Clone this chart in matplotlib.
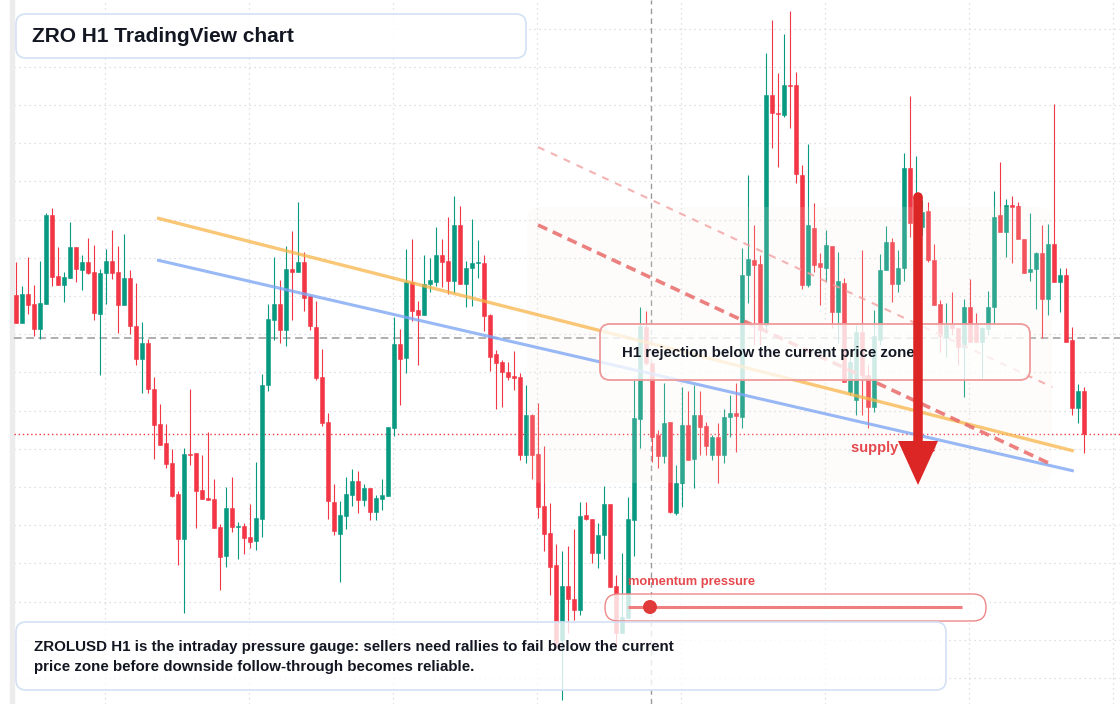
import matplotlib.pyplot as plt
from matplotlib.patches import FancyBboxPatch, FancyArrow, Circle, Rectangle
from matplotlib.transforms import Affine2D
import numpy as np

# ZRO H1 candles (price)
opens = [1.705, 1.677, 1.706, 1.696, 1.671, 1.696, 1.785, 1.724, 1.715, 1.722,
         1.753, 1.730, 1.738, 1.728, 1.686, 1.727, 1.739, 1.728, 1.695, 1.722,
         1.674, 1.641, 1.657, 1.611, 1.576, 1.557, 1.537, 1.506, 1.461, 1.546,
         1.547, 1.510, 1.502, 1.501, 1.473, 1.444, 1.492, 1.473, 1.474, 1.463,
         1.459, 1.481, 1.615, 1.680, 1.696, 1.670, 1.731, 1.728, 1.738, 1.704,
         1.673, 1.623, 1.578, 1.498, 1.466, 1.484, 1.505, 1.519, 1.500, 1.512,
         1.488, 1.501, 1.504, 1.572, 1.656, 1.642, 1.718, 1.690, 1.685, 1.716,
         1.718, 1.745, 1.739, 1.719, 1.775, 1.716, 1.732, 1.737, 1.737, 1.685,
         1.646, 1.638, 1.628, 1.624, 1.623, 1.545, 1.585, 1.546, 1.494, 1.467,
         1.435, 1.360, 1.414, 1.401, 1.390, 1.485, 1.481, 1.447, 1.465, 1.496,
         1.414, 1.367, 1.382, 1.480, 1.581, 1.673, 1.637, 1.565, 1.544, 1.578,
         1.487, 1.517, 1.575, 1.541, 1.585, 1.574, 1.545, 1.563, 1.545, 1.583,
         1.587, 1.583, 1.725, 1.740, 1.736, 1.675, 1.905, 1.887, 1.885, 1.915,
         1.915, 1.825, 1.715, 1.772, 1.737, 1.732, 1.754, 1.688, 1.717, 1.608,
         1.600, 1.668, 1.625, 1.593, 1.660, 1.730, 1.758, 1.716, 1.732, 1.832,
         1.773, 1.773, 1.789, 1.740, 1.696, 1.663, 1.675, 1.672, 1.653, 1.693,
         1.675, 1.658, 1.671, 1.693, 1.785, 1.768, 1.795, 1.794, 1.761, 1.728,
         1.731, 1.747, 1.701, 1.756, 1.718, 1.725, 1.660, 1.592, 1.609]
highs = [1.738, 1.714, 1.743, 1.715, 1.739, 1.787, 1.792, 1.753, 1.728, 1.778,
         1.753, 1.745, 1.762, 1.755, 1.731, 1.751, 1.770, 1.754, 1.766, 1.730,
         1.717, 1.678, 1.661, 1.623, 1.596, 1.576, 1.551, 1.509, 1.552, 1.611,
         1.547, 1.545, 1.568, 1.521, 1.476, 1.513, 1.523, 1.478, 1.477, 1.496,
         1.538, 1.626, 1.696, 1.743, 1.720, 1.754, 1.769, 1.798, 1.748, 1.705,
         1.699, 1.651, 1.587, 1.516, 1.499, 1.523, 1.531, 1.529, 1.516, 1.512,
         1.505, 1.521, 1.573, 1.683, 1.671, 1.751, 1.761, 1.699, 1.745, 1.742,
         1.773, 1.761, 1.783, 1.804, 1.794, 1.739, 1.781, 1.760, 1.745, 1.686,
         1.650, 1.640, 1.638, 1.649, 1.627, 1.615, 1.586, 1.597, 1.554, 1.497,
         1.456, 1.449, 1.454, 1.471, 1.498, 1.498, 1.481, 1.477, 1.514, 1.496,
         1.425, 1.447, 1.503, 1.620, 1.693, 1.689, 1.637, 1.570, 1.617, 1.578,
         1.535, 1.613, 1.609, 1.615, 1.609, 1.578, 1.565, 1.577, 1.591, 1.605,
         1.617, 1.752, 1.825, 1.775, 1.745, 1.947, 1.980, 1.927, 1.966, 1.989,
         1.928, 1.835, 1.856, 1.797, 1.747, 1.770, 1.754, 1.748, 1.722, 1.650,
         1.675, 1.750, 1.635, 1.690, 1.746, 1.774, 1.762, 1.750, 1.847, 1.904,
         1.844, 1.800, 1.798, 1.756, 1.700, 1.697, 1.708, 1.672, 1.701, 1.721,
         1.687, 1.673, 1.709, 1.809, 1.838, 1.801, 1.804, 1.798, 1.761, 1.787,
         1.748, 1.775, 1.776, 1.896, 1.732, 1.732, 1.673, 1.616, 1.613]
lows = [1.677, 1.677, 1.686, 1.664, 1.661, 1.696, 1.714, 1.715, 1.698, 1.722,
        1.718, 1.710, 1.726, 1.680, 1.625, 1.696, 1.721, 1.667, 1.695, 1.666,
        1.635, 1.607, 1.607, 1.541, 1.555, 1.532, 1.503, 1.435, 1.387, 1.535,
        1.472, 1.501, 1.500, 1.472, 1.410, 1.433, 1.468, 1.441, 1.446, 1.452,
        1.450, 1.463, 1.609, 1.660, 1.657, 1.654, 1.680, 1.728, 1.689, 1.670,
        1.620, 1.574, 1.481, 1.465, 1.418, 1.471, 1.494, 1.487, 1.494, 1.480,
        1.480, 1.490, 1.504, 1.564, 1.595, 1.627, 1.679, 1.635, 1.685, 1.708,
        1.714, 1.713, 1.706, 1.707, 1.716, 1.693, 1.694, 1.722, 1.669, 1.629,
        1.591, 1.593, 1.620, 1.610, 1.540, 1.537, 1.521, 1.482, 1.449, 1.405,
        1.352, 1.300, 1.367, 1.380, 1.385, 1.480, 1.437, 1.432, 1.441, 1.413,
        1.353, 1.367, 1.382, 1.444, 1.552, 1.635, 1.538, 1.532, 1.537, 1.487,
        1.485, 1.493, 1.540, 1.512, 1.545, 1.545, 1.540, 1.517, 1.537, 1.563,
        1.548, 1.572, 1.697, 1.655, 1.655, 1.667, 1.852, 1.833, 1.883, 1.872,
        1.817, 1.711, 1.713, 1.728, 1.695, 1.718, 1.672, 1.657, 1.618, 1.605,
        1.585, 1.585, 1.572, 1.588, 1.655, 1.730, 1.698, 1.708, 1.719, 1.763,
        1.762, 1.765, 1.738, 1.695, 1.648, 1.643, 1.665, 1.635, 1.603, 1.658,
        1.658, 1.622, 1.665, 1.675, 1.768, 1.743, 1.737, 1.761, 1.727, 1.719,
        1.691, 1.662, 1.685, 1.718, 1.688, 1.658, 1.585, 1.577, 1.547]
closes = [1.677, 1.706, 1.695, 1.671, 1.697, 1.785, 1.723, 1.715, 1.723, 1.753,
          1.731, 1.738, 1.727, 1.687, 1.727, 1.739, 1.727, 1.695, 1.722, 1.674,
          1.641, 1.657, 1.611, 1.575, 1.555, 1.536, 1.504, 1.461, 1.546, 1.545,
          1.509, 1.501, 1.500, 1.472, 1.443, 1.492, 1.473, 1.474, 1.462, 1.458,
          1.482, 1.615, 1.681, 1.696, 1.670, 1.731, 1.728, 1.738, 1.702, 1.674,
          1.622, 1.577, 1.499, 1.469, 1.485, 1.506, 1.519, 1.500, 1.512, 1.488,
          1.502, 1.505, 1.573, 1.656, 1.641, 1.718, 1.689, 1.685, 1.716, 1.720,
          1.745, 1.738, 1.719, 1.775, 1.716, 1.732, 1.737, 1.738, 1.684, 1.643,
          1.637, 1.628, 1.623, 1.622, 1.545, 1.585, 1.545, 1.493, 1.466, 1.433,
          1.357, 1.414, 1.401, 1.390, 1.484, 1.481, 1.447, 1.465, 1.496, 1.413,
          1.367, 1.383, 1.481, 1.582, 1.674, 1.637, 1.563, 1.544, 1.577, 1.488,
          1.517, 1.575, 1.540, 1.585, 1.573, 1.554, 1.563, 1.545, 1.583, 1.587,
          1.584, 1.725, 1.741, 1.735, 1.670, 1.905, 1.887, 1.886, 1.915, 1.914,
          1.826, 1.715, 1.775, 1.735, 1.733, 1.755, 1.688, 1.719, 1.618, 1.638,
          1.668, 1.625, 1.593, 1.664, 1.730, 1.758, 1.716, 1.732, 1.832, 1.777,
          1.790, 1.788, 1.740, 1.695, 1.664, 1.675, 1.672, 1.653, 1.693, 1.658,
          1.658, 1.672, 1.693, 1.783, 1.768, 1.795, 1.793, 1.761, 1.727, 1.731,
          1.747, 1.701, 1.756, 1.718, 1.725, 1.658, 1.592, 1.609, 1.566]

last_price = 1.566    # red dotted line
pivot_level = 1.662   # grey dashed line

# drawn trend lines: (candle index pair, price pair)
orange_tl = ([23.5, 176.3], [1.782, 1.549])
blue_tl = ([23.5, 176.3], [1.740, 1.529])
red_tl = ([87, 172.8], [1.775, 1.535])
red_faint_tl = ([87, 172.7], [1.853, 1.613])

GREEN, RED = '#089981', '#f23645'
INK = '#131722'
FONT = 'Liberation Sans'
W, H = 1120, 704

fig = plt.figure(figsize=(W / 100, H / 100), dpi=100)
ax = fig.add_axes([0, 0, 1, 1])
ax.axis('off')
ax.set_xlim(-16 / 6, (W - 16) / 6)
ax.set_ylim(1.296, 2.0)
# pixel coords of the 1120x704 canvas, y down
PX = Affine2D().scale(1, -1).translate(0, H)

# grid
for gx in np.arange(14.83, 185, 24):
    ax.axvline(gx, color='#d3d6dc', lw=0.9, ls=(0, (1, 3)), zorder=0.5)
for gy in np.arange(1.9715, 1.29, -0.0382):
    ax.axhline(gy, xmin=14 / W, color='#d3d6dc', lw=0.9, ls=(0, (1, 3)), zorder=0.5)
ax.add_patch(Rectangle((10, 0), 4, H, color='#ececec', transform=PX, zorder=0.6))

ax.axvline(105.83, color='#9a9a9a', lw=1, ls=(0, (4, 3)), zorder=1)
ax.axhline(pivot_level, xmin=14 / W, color='#9a9a9a', lw=1.1, ls=(0, (5, 3)), zorder=1)
ax.axhline(last_price, xmin=14 / W, color=RED, lw=1, ls=(0, (1, 2)), zorder=1)

# candles
o, h, l, c = (np.array(v) for v in (opens, highs, lows, closes))
x = np.arange(len(o))
cols = np.where(c >= o, GREEN, RED)
ax.vlines(x, l, h, colors=cols, lw=0.8, zorder=2)
ax.bar(x, np.maximum(np.abs(c - o), 0.0013), bottom=np.minimum(o, c),
       width=0.72, color=cols, edgecolor=cols, linewidth=0.4, zorder=3)

# shaded zone
ax.add_patch(FancyBboxPatch((527, 207), 525, 276, boxstyle='round,pad=0,rounding_size=14',
                            fc='#fbeee0', ec='none', alpha=0.16, transform=PX, zorder=4))

# trend lines
ax.plot(*orange_tl, color='#f7b548', lw=2.4, alpha=0.75, solid_capstyle='butt', zorder=5)
ax.plot(*blue_tl, color='#7ea6f4', lw=2.2, alpha=0.8, solid_capstyle='butt', zorder=5)
ax.plot(*red_tl, color='#e86a6a', lw=2.6, alpha=0.85, dashes=(2.8, 1.7), zorder=5)
ax.plot(*red_faint_tl, color='#f2a0a0', lw=1.5, alpha=0.8, dashes=(3.4, 3.4), zorder=5)

# middle callout
ax.add_patch(FancyBboxPatch((600, 324), 430, 56, boxstyle='round,pad=0,rounding_size=10',
                            fc=(1, 1, 1, 0.78), ec='#ef9a9a', lw=1.3, transform=PX, zorder=6))
ax.text(622, 353.5, 'H1 rejection below the current price zone', transform=PX, va='center',
        fontsize=10.8, fontweight='bold', color=INK, family=FONT, zorder=7)

ax.text(851, 448, 'supply zone', transform=PX, va='center', fontsize=10.5,
        fontweight='bold', color='#e5484d', family=FONT, zorder=7)

# arrow
ax.add_patch(FancyArrow(918, 197, 0, 288, width=9.5, head_width=40, head_length=44,
                        length_includes_head=True, color='#dc2626', lw=0,
                        transform=PX, zorder=8))
ax.add_patch(Circle((918, 197), 4.75, color='#dc2626', lw=0, transform=PX, zorder=8))

# title box
ax.add_patch(FancyBboxPatch((16, 14), 510, 44, boxstyle='round,pad=0,rounding_size=10',
                            fc=(1, 1, 1, 0.92), ec='#d3e1f5', lw=1.2, transform=PX, zorder=9))
ax.text(32, 36, 'ZRO H1 TradingView chart', transform=PX, va='center', fontsize=15,
        fontweight='bold', color=INK, family=FONT, zorder=10)

# momentum gauge
ax.text(628, 582, 'momentum pressure', transform=PX, va='center', fontsize=9.3,
        fontweight='bold', color='#e5484d', family=FONT, zorder=10)
ax.add_patch(FancyBboxPatch((605, 594), 381, 27, boxstyle='round,pad=0,rounding_size=13',
                            fc=(1, 1, 1, 0.8), ec='#ee8888', lw=1, transform=PX, zorder=9))
ax.plot([628, 962], [607, 607], transform=PX, color='#ef7f7f', lw=2.2,
        solid_capstyle='butt', zorder=10)
ax.add_patch(Circle((650, 607), 7, color='#e03a3a', lw=0, transform=PX, zorder=11))

# bottom note
ax.add_patch(FancyBboxPatch((16, 622), 930, 68, boxstyle='round,pad=0,rounding_size=10',
                            fc=(1, 1, 1, 0.8), ec='#d3e1f5', lw=1.2, transform=PX, zorder=9))
ax.text(34, 647.5, 'ZROLUSD H1 is the intraday pressure gauge: sellers need rallies to fail below the current',
        transform=PX, va='center', fontsize=10.9, fontweight='bold', color=INK, family=FONT, zorder=10)
ax.text(34, 667.5, 'price zone before downside follow-through becomes reliable.',
        transform=PX, va='center', fontsize=10.9, fontweight='bold', color=INK, family=FONT, zorder=10)

fig.savefig('out.png', dpi=100)
